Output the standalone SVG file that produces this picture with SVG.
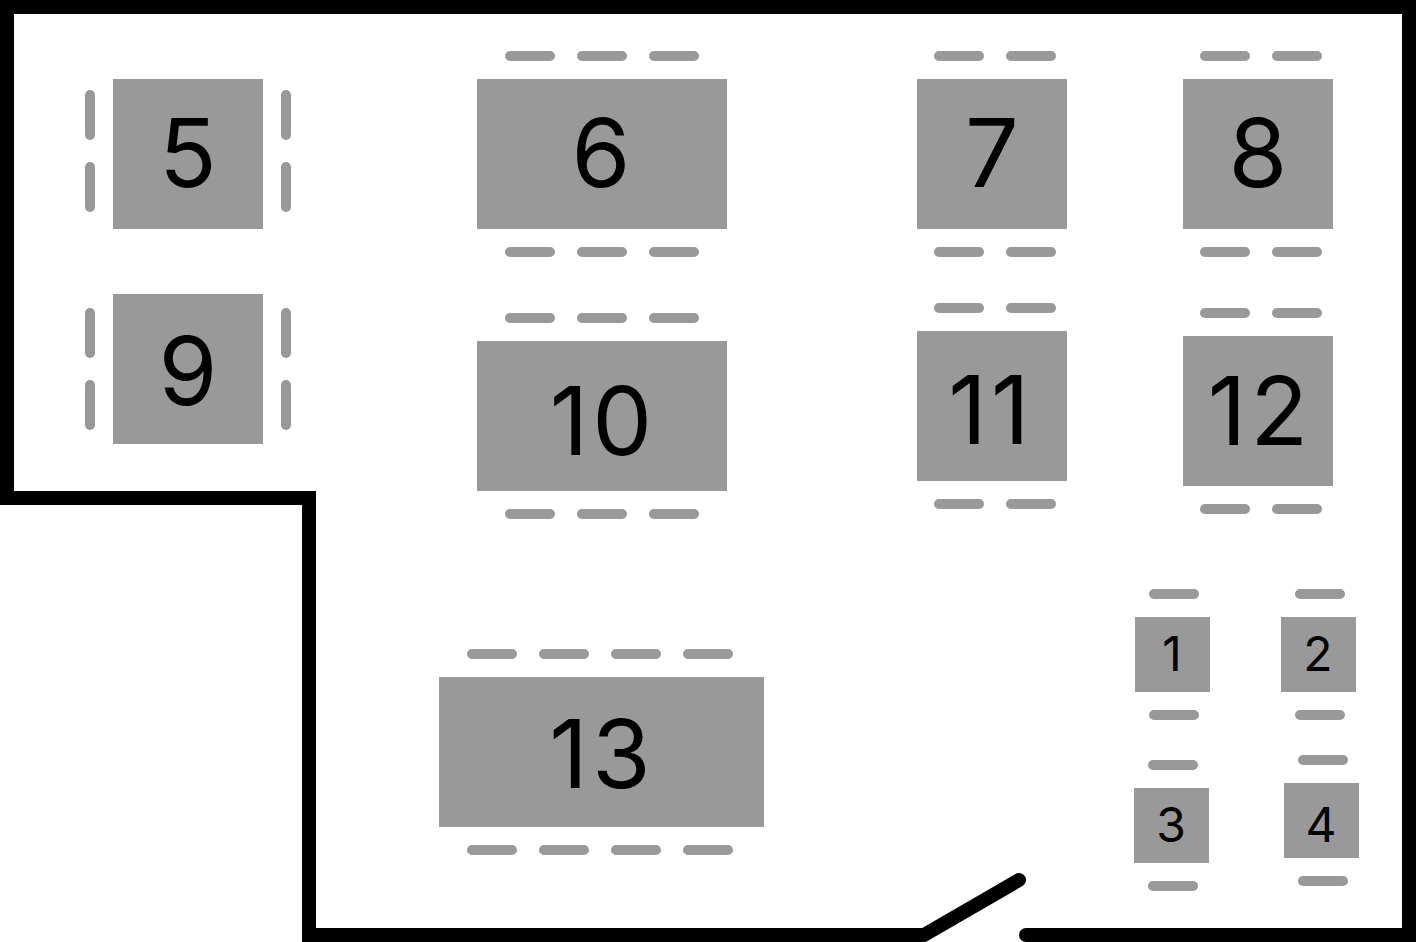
<svg xmlns="http://www.w3.org/2000/svg" width="1416" height="942" viewBox="0 0 1416 942">
<style>
.t{fill:#999}
.c{stroke:#999;stroke-width:10;stroke-linecap:round;fill:none}
.n{font-family:Inter,"Liberation Sans",sans-serif;fill:#000;text-anchor:middle;font-weight:400}
.b{font-size:95px}
.s{font-size:48px}
.d{letter-spacing:4px}
.w{stroke:#000;stroke-width:14;fill:none;stroke-linecap:butt;stroke-linejoin:miter}
.r{stroke-linecap:round}
</style>
<rect width="1416" height="942" fill="#fff"/>
<g id="walls">
<path class="w" d="M924 935H309V498H7V7H1409V935H1026"/>
<path class="w r" d="M924 935L1019 880"/>
<path class="w r" d="M1026 935H1040"/>
</g>
<g id="table-5"><rect class="t" x="113" y="79" width="150" height="150"/><path class="c" d="M90 95V135M90 167V207M286 95V135M286 167V207"/><text class="n b" x="188" y="187">5</text></g>
<g id="table-6"><rect class="t" x="477" y="79" width="250" height="150"/><path class="c" d="M510 56H550M582 56H622M654 56H694M510 252H550M582 252H622M654 252H694"/><text class="n b" x="601" y="187">6</text></g>
<g id="table-7"><rect class="t" x="917" y="79" width="150" height="150"/><path class="c" d="M939 56H979M1011 56H1051M939 252H979M1011 252H1051"/><text class="n b" x="992" y="187">7</text></g>
<g id="table-8"><rect class="t" x="1183" y="79" width="150" height="150"/><path class="c" d="M1205 56H1245M1277 56H1317M1205 252H1245M1277 252H1317"/><text class="n b" x="1258" y="187">8</text></g>
<g id="table-9"><rect class="t" x="113" y="294" width="150" height="150"/><path class="c" d="M90 313V353M90 385V425M286 313V353M286 385V425"/><text class="n b" x="188" y="405">9</text></g>
<g id="table-10"><rect class="t" x="477" y="341" width="250" height="150"/><path class="c" d="M510 318H550M582 318H622M654 318H694M510 514H550M582 514H622M654 514H694"/><text class="n b d" x="603" y="455">10</text></g>
<g id="table-11"><rect class="t" x="917" y="331" width="150" height="150"/><path class="c" d="M939 308H979M1011 308H1051M939 504H979M1011 504H1051"/><text class="n b d" x="991" y="444">11</text></g>
<g id="table-12"><rect class="t" x="1183" y="336" width="150" height="150"/><path class="c" d="M1205 313H1245M1277 313H1317M1205 509H1245M1277 509H1317"/><text class="n b d" x="1260" y="445">12</text></g>
<g id="table-13"><rect class="t" x="439" y="677" width="325" height="150"/><path class="c" d="M472 654H512M544 654H584M616 654H656M688 654H728M472 850H512M544 850H584M616 850H656M688 850H728"/><text class="n b d" x="602" y="788">13</text></g>
<g id="table-1"><rect class="t" x="1135" y="617" width="75" height="75"/><path class="c" d="M1154 594H1194M1154 715H1194"/><text class="n s" x="1172" y="671">1</text></g>
<g id="table-2"><rect class="t" x="1281" y="617" width="75" height="75"/><path class="c" d="M1300 594H1340M1300 715H1340"/><text class="n s" x="1318" y="671">2</text></g>
<g id="table-3"><rect class="t" x="1134" y="788" width="75" height="75"/><path class="c" d="M1153 765H1193M1153 886H1193"/><text class="n s" x="1171" y="842">3</text></g>
<g id="table-4"><rect class="t" x="1284" y="783" width="75" height="75"/><path class="c" d="M1303 760H1343M1303 881H1343"/><text class="n s" x="1321" y="842">4</text></g>
</svg>
